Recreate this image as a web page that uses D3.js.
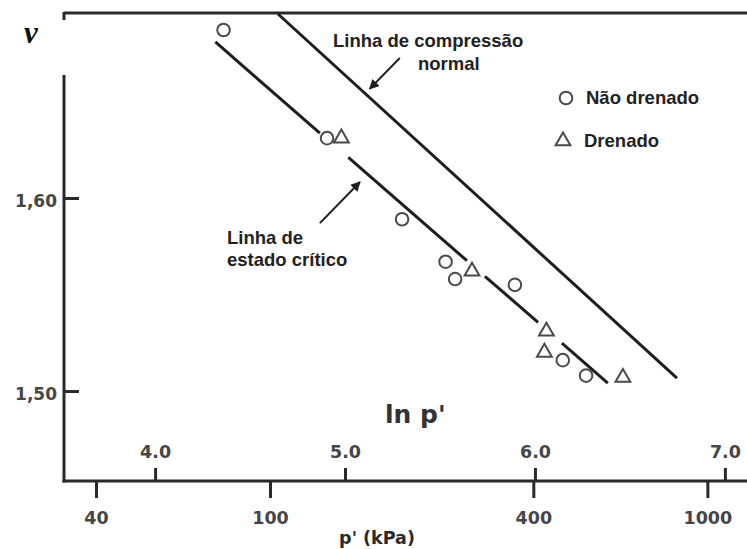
<!DOCTYPE html>
<html>
<head>
<meta charset="utf-8">
<script src="https://cdn.jsdelivr.net/npm/d3@7"></script>
<style>
    body { margin: 0; background: #fff; }
    svg { display: block; }
</style>
</head>
<body>
<svg class="chart" width="747" height="549"></svg>
<script>
// ensaios: p' (kPa) e volume específico v
let naoDrenadoP = [78.3, 135.0, 200.4, 252, 265, 363, 467, 528]
let naoDrenadoV = [1.687, 1.631, 1.589, 1.567, 1.558, 1.555, 1.516, 1.508]
let drenadoP = [145.6, 289.6, 428.5, 424, 641]
let drenadoV = [1.631, 1.562, 1.531, 1.520, 1.507]

// linha de compressão normal (extremos)
let nclP = [104.3, 852]
let nclV = [1.6953, 1.5067]
// linha de estado crítico, em trechos (interrompida nos pontos)
let cslP = [[75, 130], [151, 282], [310, 410], [465, 592]]
let cslV = [[1.6808, 1.6336], [1.6210, 1.5675], [1.5594, 1.5356], [1.5248, 1.5041]]

let yTicks = [1.50, 1.60]
let yTickLabels = ["1,50", "1,60"]
let pTicks = [40, 100, 400, 1000]
let lnTicks = [4.0, 5.0, 6.0, 7.0]

let svg = d3.select(".chart")
let mLeft = 64, mRight = 747, mTop = 14, mBottom = 481

let x = d3.scaleLog().domain([33.8, 1232]).range([mLeft, mRight])
let xLn = d3.scaleLinear().domain([Math.log(33.8), Math.log(1232)]).range([mLeft, mRight])
let y = d3.scaleLinear().domain([1.4534, 1.6953]).range([mBottom, mTop])

let ink = "#1e1e1e"
let axisInk = "#2a2a2a"
let tickInk = "#464646"

//eixos
svg.append("line").attr("x1", mLeft).attr("x2", mRight).attr("y1", 13).attr("y2", 13)
    .attr("stroke", axisInk).attr("stroke-width", 3)

let yAxis = svg.append("g")
    .attr("transform", `translate(${mLeft},0)`)
    .call(d3.axisRight(y).tickValues(yTicks).tickSize(15).tickFormat((d, i) => yTickLabels[i]))
yAxis.select(".domain").remove()
yAxis.append("line").attr("x1", 0).attr("x2", 0).attr("y1", 12).attr("y2", mBottom + 1.5)
    .attr("stroke", axisInk).attr("stroke-width", 3)
yAxis.selectAll(".tick line").attr("stroke", axisInk).attr("stroke-width", 3)
yAxis.selectAll(".tick text")
    .attr("x", -7).attr("dy", "0.48em")
    .attr("text-anchor", "end")
    .attr("font-family", "DejaVu Sans").attr("font-weight", "bold")
    .attr("font-size", 17).attr("fill", tickInk)

let pAxis = svg.append("g")
    .attr("transform", `translate(0,${mBottom})`)
    .call(d3.axisBottom(x).tickValues(pTicks).tickSize(17).tickFormat(d3.format("d")))
pAxis.select(".domain").remove()
pAxis.selectAll(".tick line").attr("stroke", axisInk).attr("stroke-width", 3)
pAxis.selectAll(".tick text")
    .attr("y", 43).attr("dy", 0)
    .attr("font-family", "DejaVu Sans").attr("font-weight", "bold")
    .attr("font-size", 17.5).attr("fill", tickInk)

let lnAxis = svg.append("g")
    .attr("transform", `translate(0,${mBottom})`)
    .call(d3.axisTop(xLn).tickValues(lnTicks).tickSize(13).tickFormat(d3.format(".1f")))
lnAxis.select(".domain").remove()
lnAxis.selectAll(".tick line").attr("stroke", axisInk).attr("stroke-width", 3)
lnAxis.selectAll(".tick text")
    .attr("y", -23).attr("dy", 0)
    .attr("font-family", "DejaVu Sans").attr("font-weight", "bold")
    .attr("font-size", 17.5).attr("fill", tickInk)

svg.append("line").attr("x1", mLeft - 1.5).attr("x2", mRight).attr("y1", mBottom).attr("y2", mBottom)
    .attr("stroke", axisInk).attr("stroke-width", 3)

// mancha branca atrás do v
svg.append("rect").attr("x", 0).attr("y", 20).attr("width", 67).attr("height", 55).attr("fill", "#fff")

svg.append("text").attr("x", 31).attr("y", 43)
    .attr("text-anchor", "middle")
    .attr("font-family", "Liberation Serif").attr("font-style", "italic").attr("font-weight", "bold")
    .attr("font-size", 31).attr("fill", "#111")
    .text("v")

svg.append("text").attr("x", 385).attr("y", 423)
    .attr("font-family", "DejaVu Sans").attr("font-weight", "bold")
    .attr("font-size", 25).attr("fill", "#333")
    .text("ln p'")

svg.append("text").attr("x", 377).attr("y", 544)
    .attr("text-anchor", "middle")
    .attr("font-family", "DejaVu Sans").attr("font-weight", "bold")
    .attr("font-size", 17.5).attr("fill", "#2a2a2a")
    .text("p' (kPa)")

//linhas
let line = d3.line().x(d => x(d[0])).y(d => y(d[1]))
svg.append("path")
    .attr("d", line(d3.zip(nclP, nclV)))
    .attr("stroke", ink).attr("stroke-width", 3).attr("fill", "none")
svg.append("g")
    .selectAll("path")
    .data(cslP)
    .enter()
    .append("path")
    .attr("d", (d, i) => line(d3.zip(d, cslV[i])))
    .attr("stroke", ink).attr("stroke-width", 3).attr("fill", "none")

//setas
svg.append("defs").append("marker")
    .attr("id", "arrow")
    .attr("viewBox", "0 0 10 10").attr("refX", 9).attr("refY", 5)
    .attr("markerWidth", 5).attr("markerHeight", 5)
    .attr("orient", "auto")
    .append("path").attr("d", "M0,0 L10,5 L0,10 z").attr("fill", ink)

let arrows = [
    {from: [198, 1.6725], to: [169, 1.6565]},
    {from: [130, 1.5870], to: [160.6, 1.6083]}
]
svg.append("g")
    .selectAll("line")
    .data(arrows)
    .enter()
    .append("line")
    .attr("x1", d => x(d.from[0])).attr("y1", d => y(d.from[1]))
    .attr("x2", d => x(d.to[0])).attr("y2", d => y(d.to[1]))
    .attr("stroke", ink).attr("stroke-width", 2)
    .attr("marker-end", "url(#arrow)")

let labels = [
    {x: 333, y: 47, t: "Linha de compressão"},
    {x: 418, y: 70, t: "normal"},
    {x: 227, y: 244, t: "Linha de"},
    {x: 227, y: 266, t: "estado crítico"},
    {x: 586, y: 104, t: "Não drenado"},
    {x: 584, y: 147, t: "Drenado"}
]
svg.append("g")
    .selectAll("text")
    .data(labels)
    .enter()
    .append("text")
    .attr("x", d => d.x).attr("y", d => d.y)
    .attr("font-family", "Liberation Sans").attr("font-weight", "bold")
    .attr("font-size", 18.5).attr("fill", "#222")
    .text(d => d.t)

//pontos
let markerStroke = "#4a4a4a"
svg.append("g")
    .selectAll("circle")
    .data(d3.zip(naoDrenadoP, naoDrenadoV))
    .enter()
    .append("circle")
    .attr("cx", d => x(d[0])).attr("cy", d => y(d[1]))
    .attr("r", 6.3)
    .attr("fill", "#fff").attr("stroke", markerStroke).attr("stroke-width", 2)

let tri = d3.symbol().type(d3.symbolTriangle).size(95)
svg.append("g")
    .selectAll("path")
    .data(d3.zip(drenadoP, drenadoV))
    .enter()
    .append("path")
    .attr("d", tri)
    .attr("transform", d => `translate(${x(d[0])},${y(d[1])})`)
    .attr("fill", "#fff").attr("stroke", markerStroke).attr("stroke-width", 2)

// legenda
svg.append("circle").attr("cx", 566).attr("cy", 98).attr("r", 6.3)
    .attr("fill", "#fff").attr("stroke", markerStroke).attr("stroke-width", 2)
svg.append("path").attr("d", tri).attr("transform", "translate(563,141)")
    .attr("fill", "#fff").attr("stroke", markerStroke).attr("stroke-width", 2)
</script>
</body>
</html>
